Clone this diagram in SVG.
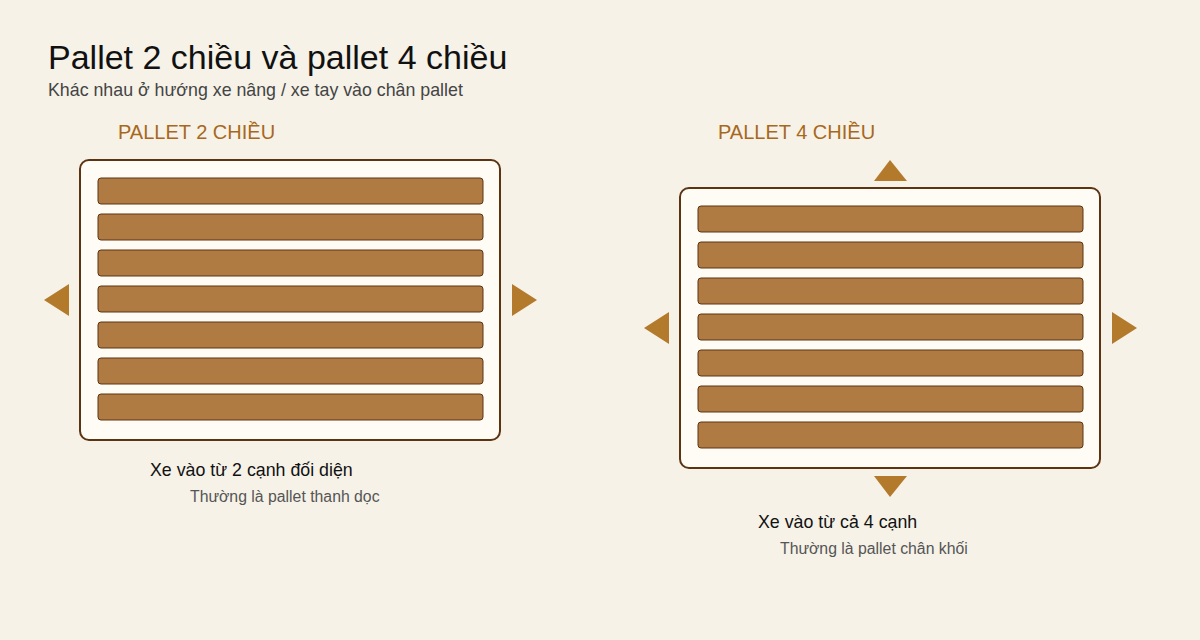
<svg xmlns="http://www.w3.org/2000/svg" width="1200" height="640" viewBox="0 0 1200 640">
<defs>
<style>
.bg{fill:#f6f2e8}
.frame{fill:#fffcf6;stroke:#5c3412;stroke-width:2}
.slat{fill:#b07b42;stroke:#5c3412;stroke-width:1}
.arr{fill:#b47a2c}
.t{font-family:"Liberation Sans",Arial,sans-serif}
.title{font-size:34px;fill:#111}
.sub{font-size:17.8px;fill:#444}
.head{font-size:20px;fill:#a8681c}
.cap{font-size:17.8px;fill:#111}
.note{font-size:15.8px;fill:#555}
</style>
<g id="slats">
<rect class="slat" x="0" y="0" width="385" height="26" rx="3"/>
<rect class="slat" x="0" y="36" width="385" height="26" rx="3"/>
<rect class="slat" x="0" y="72" width="385" height="26" rx="3"/>
<rect class="slat" x="0" y="108" width="385" height="26" rx="3"/>
<rect class="slat" x="0" y="144" width="385" height="26" rx="3"/>
<rect class="slat" x="0" y="180" width="385" height="26" rx="3"/>
<rect class="slat" x="0" y="216" width="385" height="26" rx="3"/>
</g>
</defs>
<rect class="bg" x="0" y="0" width="1200" height="640"/>
<g id="header">
<text class="t title" x="48" y="69">Pallet 2 chiều và pallet 4 chiều</text>
<text class="t sub" x="48" y="96">Khác nhau ở hướng xe nâng / xe tay vào chân pallet</text>
</g>
<g id="pallet2">
<text class="t head" x="118" y="139">PALLET 2 CHIỀU</text>
<rect class="frame" x="80" y="160" width="420" height="280" rx="9"/>
<use href="#slats" x="98" y="178"/>
<text class="t cap" x="150" y="476">Xe vào từ 2 cạnh đối diện</text>
<text class="t note" x="190" y="502">Thường là pallet thanh dọc</text>
</g>
<g id="pallet4">
<text class="t head" x="718" y="139">PALLET 4 CHIỀU</text>
<rect class="frame" x="680" y="188" width="420" height="280" rx="9"/>
<use href="#slats" x="698" y="206"/>
<text class="t cap" x="758" y="528">Xe vào từ cả 4 cạnh</text>
<text class="t note" x="780" y="554">Thường là pallet chân khối</text>
</g>
<g id="connectors">
<polygon class="arr" points="44,300 69,284 69,316"/>
<polygon class="arr" points="537,300 512,284 512,316"/>
<polygon class="arr" points="644,328 669,312 669,344"/>
<polygon class="arr" points="1137,328 1112,312 1112,344"/>
<polygon class="arr" points="890,160 874,181 907,181"/>
<polygon class="arr" points="890,497 874,476 907,476"/>
</g>
</svg>
